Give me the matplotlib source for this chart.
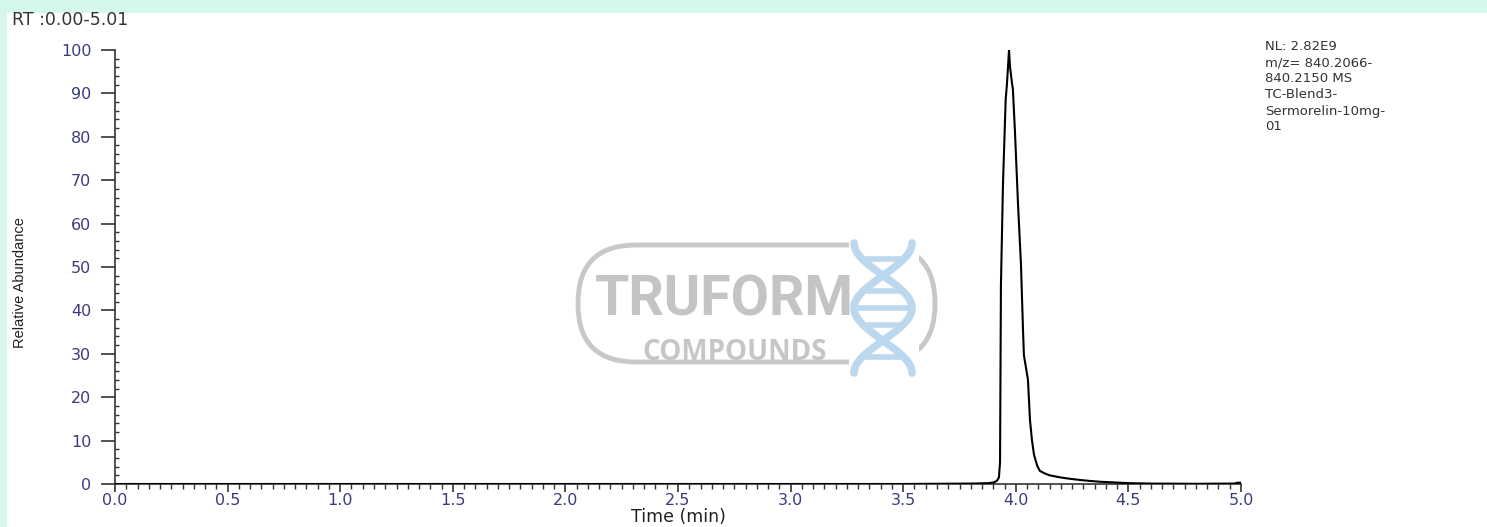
import numpy as np
import matplotlib
matplotlib.use("Agg")
import matplotlib.pyplot as plt
from matplotlib.patches import Rectangle, FancyBboxPatch
from matplotlib.ticker import MultipleLocator

# ---- data ----
time_min = [0.00, 0.50, 1.00, 1.50, 2.00, 2.50, 3.00, 3.50, 3.80, 3.88, 3.905, 3.917, 3.925,
            3.930, 3.934, 3.943, 3.955, 3.961, 3.970, 3.974, 3.983, 3.987, 3.996,
            4.010, 4.023, 4.032, 4.036, 4.054, 4.063, 4.072, 4.081, 4.095, 4.107,
            4.130, 4.150, 4.200, 4.240, 4.290, 4.330, 4.380, 4.420, 4.460, 4.500,
            4.600, 4.800, 4.970, 4.985, 5.000]
abundance = [0.0, 0.0, 0.0, 0.0, 0.0, 0.0, 0.0, 0.0, 0.1, 0.2, 0.4, 0.8, 1.5,
             5.0, 45.8, 69.0, 88.5, 92.4, 100.0, 96.3, 92.4, 91.0, 81.5,
             64.3, 50.5, 35.5, 29.7, 24.0, 14.7, 10.0, 6.7, 4.2, 3.0,
             2.4, 2.0, 1.5, 1.2, 0.9, 0.7, 0.5, 0.4, 0.3, 0.2,
             0.1, 0.05, 0.1, 0.3, 0.3]

x_ticks = [0.0, 0.5, 1.0, 1.5, 2.0, 2.5, 3.0, 3.5, 4.0, 4.5, 5.0]
y_ticks = [0, 10, 20, 30, 40, 50, 60, 70, 80, 90, 100]
info_lines = ["NL: 2.82E9", "m/z= 840.2066-", "840.2150 MS", "TC-Blend3-",
              "Sermorelin-10mg-", "01"]

W, H = 1487, 527
fig = plt.figure(figsize=(W / 100, H / 100), dpi=100)
fig.patch.set_facecolor("#d6f7ed")
fig.patches.append(Rectangle((7 / W, 0), 1 - 7 / W, (H - 13) / H,
                             transform=fig.transFigure, facecolor="white",
                             edgecolor="none", zorder=-10))

# ---- watermark logo (decoration) ----
wm = fig.add_axes([0, 0, 1, 1], zorder=-5)
wm.set_xlim(0, W)
wm.set_ylim(H, 0)
wm.axis("off")
wm.patch.set_alpha(0)
wm.add_patch(FancyBboxPatch((578, 245), 357, 117,
                            boxstyle="round,pad=0,rounding_size=58",
                            facecolor="none", edgecolor="#c8c8c8", lw=3.5))
wm.text(724, 300, "TRUFORM", ha="center", va="center", fontsize=40, fontweight="bold",
        family=["Roboto", "DejaVu Sans"], color="#c4c4c4")
wm.text(735, 352, "COMPOUNDS", ha="center", va="center", fontsize=20, fontweight="bold",
        family=["Open Sans", "DejaVu Sans"], color="#c6c6c6")
wm.add_patch(Rectangle((849, 238), 70, 140, facecolor="white", edgecolor="none"))
tt = np.linspace(0, 1, 200)
yy = 243 + tt * 130
xa = 883 + 29 * np.cos(tt * 2 * np.pi)
xb = 883 - 29 * np.cos(tt * 2 * np.pi)
dna = "#bcd8ee"
wm.plot(xa, yy, color=dna, lw=5.5, solid_capstyle="round")
wm.plot(xb, yy, color=dna, lw=5.5, solid_capstyle="round")
for t in [0.12, 0.37, 0.5, 0.63, 0.88]:
    y0 = 243 + t * 130
    x0 = 883 + 27 * np.cos(t * 2 * np.pi)
    x1 = 883 - 27 * np.cos(t * 2 * np.pi)
    wm.plot([x0, x1], [y0, y0], color=dna, lw=4)

ax = fig.add_axes([115 / W, (H - 484) / H, 1126 / W, 434 / H], zorder=2)
ax.set_facecolor("none")
ax.plot(time_min, abundance, color="black", lw=1.5, zorder=5)
ax.set_xlim(0, 5.0)
ax.set_ylim(0, 100)
for s in ["top", "right"]:
    ax.spines[s].set_visible(False)
for s in ["left", "bottom"]:
    ax.spines[s].set_color("#333333")
    ax.spines[s].set_linewidth(1.2)

tick_color = "#3c3c7c"
font = ["DejaVu Sans"]
ax.set_xticks(x_ticks)
ax.set_xticklabels([f"{v:.1f}" for v in x_ticks], color=tick_color, fontsize=11.5, family=font)
ax.set_yticks(y_ticks)
ax.set_yticklabels([str(v) for v in y_ticks], color=tick_color, fontsize=11.5, family=font)
ax.xaxis.set_minor_locator(MultipleLocator(0.05))
ax.yaxis.set_minor_locator(MultipleLocator(2))
ax.tick_params(axis="x", which="major", direction="out", length=6, width=1.2, color="#333333", pad=0.5)
ax.tick_params(axis="x", which="minor", direction="out", length=3.5, width=1.0, color="#333333")
ax.tick_params(axis="y", which="major", direction="out", length=10, width=1.2, color="#333333", pad=7)
ax.tick_params(axis="y", which="minor", direction="in", length=3, width=1.0, color="#333333")

ax.set_xlabel("Time (min)", fontsize=12.5, family=font, color="#222222", labelpad=0)
fig.text(20 / W, 1 - 283 / H, "Relative Abundance", rotation=90, ha="center", va="center",
         fontsize=10.5, family=["Liberation Sans Narrow", "Liberation Sans", "DejaVu Sans"],
         color="#222222")
fig.text(12 / W, 1 - 20 / H, "RT :0.00-5.01", ha="left", va="center", fontsize=12.5,
         family=font, color="#333333")
for i, line in enumerate(info_lines):
    fig.text(1265 / W, 1 - (47 + i * 16.0) / H, line, ha="left", va="center", fontsize=9.5,
             family=font, color="#333333")

fig.savefig("out.png", dpi=100, facecolor=fig.get_facecolor())
